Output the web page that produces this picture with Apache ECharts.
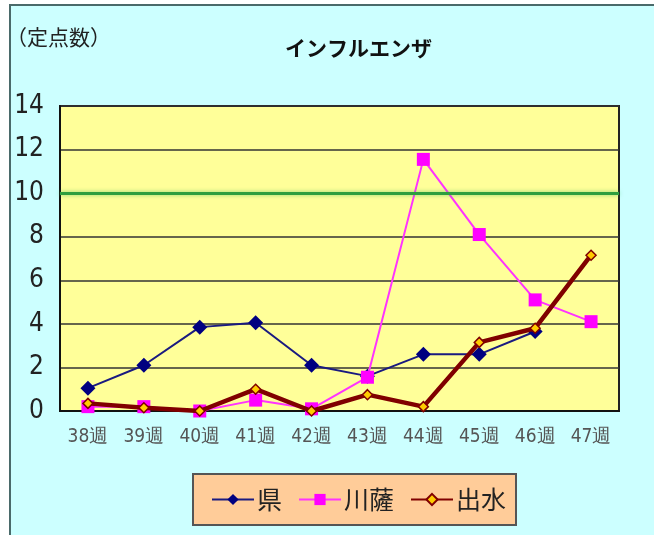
<!DOCTYPE html>
<html><head><meta charset="utf-8">
<script src="https://cdn.jsdelivr.net/npm/echarts@6/dist/echarts.min.js"></script>
<style>html,body{margin:0;padding:0;background:#fff;}#c{width:654px;height:535px;}</style>
</head><body><div id="c"></div>
<script>
const categories = ['38週','39週','40週','41週','42週','43週','44週','45週','46週','47週'];
const ken = [1.05, 2.1, 3.85, 4.05, 2.1, 1.6, 2.6, 2.6, 3.65, null];
const sensatsu = [0.2, 0.2, 0.0, 0.5, 0.1, 1.55, 11.55, 8.1, 5.1, 4.1];
const izumi = [0.35, 0.15, 0.0, 1.0, 0.0, 0.75, 0.2, 3.15, 3.8, 7.15];
const yTicks = {min: 0, max: 14, interval: 2};
const threshold = 10;

const chart = echarts.init(document.getElementById('c'));
const numFont = '"Liberation Sans Narrow", "DejaVu Sans Condensed", sans-serif';
const jpFont = '"Noto Sans CJK JP", sans-serif';
chart.setOption({
  backgroundColor: '#ffffff',
  animation: false,
  graphic: [
    {type: 'rect', z: -10, silent: true, shape: {x: 10, y: 5, width: 650, height: 540},
     style: {fill: '#ccffff', stroke: '#4a6a6a', lineWidth: 2}},
    {type: 'text', left: 6, top: 27, style: {text: '（定点数）', font: '21px ' + jpFont, fill: '#222'}},
    {type: 'text', left: 285, top: 38, style: {text: 'インフルエンザ', font: 'bold 21px ' + jpFont, fill: '#111'}}
  ],
  grid: {left: 60, right: 35, top: 106, bottom: 124, show: true, backgroundColor: '#ffff99', borderColor: '#222', borderWidth: 2},
  legend: {
    left: 193, top: 474, backgroundColor: '#ffcc99', borderColor: '#555', borderWidth: 2,
    padding: [13, 10, 13, 18], itemGap: 16, itemWidth: 42, itemHeight: 14, borderRadius: 0,
    textStyle: {fontFamily: jpFont, fontSize: 25, color: '#222', padding: [0, 0, 0, -2]},
    data: ['県','川薩','出水']
  },
  xAxis: {
    type: 'category', data: categories, boundaryGap: true,
    axisLine: {lineStyle: {color: '#111', width: 2}},
    axisTick: {inside: true, length: 5, lineStyle: {color: '#333'}},
    axisLabel: {fontFamily: numFont, fontSize: 19, color: '#555', margin: 17}
  },
  yAxis: {
    type: 'value', min: yTicks.min, max: yTicks.max, interval: yTicks.interval,
    axisLine: {show: true, lineStyle: {color: '#111', width: 2}},
    axisTick: {show: false},
    splitLine: {lineStyle: {color: '#333', width: 1.5}},
    axisLabel: {fontFamily: numFont, fontSize: 26, color: '#222', margin: 16}
  },
  series: [
    {name: '県', type: 'line', data: ken, symbol: 'diamond', symbolSize: 15,
     itemStyle: {color: '#000080'}, lineStyle: {color: '#1a1a80', width: 2}, z: 3,
     markLine: {silent: true, symbol: 'none', label: {show: false},
       lineStyle: {color: '#2e9e3e', width: 3, type: 'solid', shadowColor: 'rgba(60,180,80,0.6)', shadowBlur: 4},
       data: [{yAxis: threshold}]}},
    {name: '川薩', type: 'line', data: sensatsu, symbol: 'rect', symbolSize: 13,
     itemStyle: {color: '#ff00ff'}, lineStyle: {color: '#ff33ff', width: 2}, z: 4},
    {name: '出水', type: 'line', data: izumi, symbol: 'diamond', symbolSize: 10,
     itemStyle: {color: '#ffcc00', borderColor: '#800000', borderWidth: 1.5}, lineStyle: {color: '#800000', width: 4.5}, z: 5}
  ]
});
</script></body></html>
